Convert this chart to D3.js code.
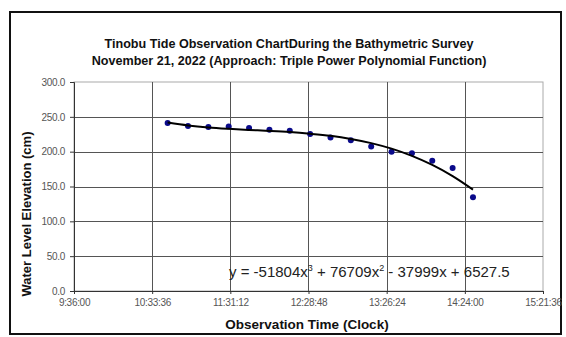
<!DOCTYPE html>
<html>
<head>
<meta charset="utf-8">
<script src="https://cdn.jsdelivr.net/npm/d3@7"></script>
<style>
  body { margin: 0; background: #fff; }
  svg { display: block; font-family: "Liberation Sans", Arial, sans-serif; }
</style>
</head>
<body>
<script>
// observation times (clock) and measured water level (cm)
var obsTimes = ["10:45", "11:00", "11:15", "11:30", "11:45", "12:00", "12:15", "12:30",
                "12:45", "13:00", "13:15", "13:30", "13:45", "14:00", "14:15", "14:30"];
var waterLevel = [241, 236.7, 235.3, 236.3, 233.9, 231.6, 230.1, 225.2,
                  220.2, 216.4, 207.5, 199.9, 197.6, 187.1, 176.5, 134.5];
// trendline values (cubic polynomial) at the same times
var trendLevel = [241.8, 237.7, 234.8, 232.8, 231.2, 229.8, 228.1, 225.7,
                  222.7, 218.3, 212.3, 204.3, 193.9, 180.9, 164.9, 145.5];

var xTickLabels = ["9:36:00", "10:33:36", "11:31:12", "12:28:48", "13:26:24", "14:24:00", "15:21:36"];
var yTickValues = [0, 50, 100, 150, 200, 250, 300];

var titleLines = ["Tinobu Tide Observation ChartDuring the Bathymetric Survey",
                  "November 21, 2022 (Approach: Triple Power Polynomial Function)"];
var xTitle = "Observation Time (Clock)";
var yTitle = "Water Level Elevation (cm)";

//turns "h:mm[:ss]" into minutes since midnight
function toMinutes(s) {
  var p = s.split(":").map(Number);
  return p[0] * 60 + p[1] + (p[2] || 0) / 60;
}

function main() {
  var w = 566, h = 337;
  var left = 74, right = 543, top = 82, bottom = 291;

  var svg = d3.select("body").append("svg")
    .attr("width", w)
    .attr("height", h);

  //outer chart frame
  svg.append("rect")
    .attr("x", 10).attr("y", 12)
    .attr("width", 551).attr("height", 322)
    .attr("fill", "#fff")
    .attr("stroke", "#111")
    .attr("stroke-width", 2);

  var xTicks = xTickLabels.map(toMinutes);
  var x = d3.scaleLinear()
    .domain([xTicks[0], xTicks[xTicks.length - 1]])
    .range([left, right]);
  var y = d3.scaleLinear()
    .domain([0, 300])
    .range([bottom, top]);

  //plot area border (light on top/right)
  svg.append("rect")
    .attr("x", left).attr("y", top)
    .attr("width", right - left).attr("height", bottom - top)
    .attr("fill", "none")
    .attr("stroke", "#aaa")
    .attr("stroke-width", 1);

  //gridlines
  svg.append("g").selectAll("line")
    .data(yTickValues.slice(1, -1))
    .enter().append("line")
    .attr("x1", left).attr("x2", right)
    .attr("y1", function(d) { return Math.round(y(d)) + 0.5; })
    .attr("y2", function(d) { return Math.round(y(d)) + 0.5; })
    .attr("stroke", "#555");
  svg.append("g").selectAll("line")
    .data(xTicks.slice(1, -1))
    .enter().append("line")
    .attr("y1", top).attr("y2", bottom)
    .attr("x1", function(d) { return Math.round(x(d)) + 0.5; })
    .attr("x2", function(d) { return Math.round(x(d)) + 0.5; })
    .attr("stroke", "#555");

  //axes
  var xAxis = svg.append("g")
    .attr("transform", "translate(0," + bottom + ")")
    .call(d3.axisBottom(x).tickValues(xTicks).tickSize(3).tickPadding(5)
      .tickFormat(function(d, i) { return xTickLabels[i]; }));
  var yAxis = svg.append("g")
    .attr("transform", "translate(" + left + ",0)")
    .call(d3.axisLeft(y).tickValues(yTickValues).tickSize(4).tickPadding(5)
      .tickFormat(d3.format(".1f")));
  [xAxis, yAxis].forEach(function(a) {
    a.select(".domain").attr("stroke", "#333");
    a.selectAll(".tick line").attr("stroke", "#333");
    a.selectAll("text")
      .attr("fill", "#555")
      .style("font-size", "10px")
      .style("letter-spacing", "-0.3px")
      .style("font-family", "'Liberation Sans', Arial, sans-serif");
  });

  //data points and trendline
  var pts = obsTimes.map(function(t, i) {
    return { t: toMinutes(t), v: waterLevel[i], f: trendLevel[i] };
  });

  var line = d3.line()
    .x(function(d) { return x(d.t); })
    .y(function(d) { return y(d.f); })
    .curve(d3.curveMonotoneX);

  svg.append("g").selectAll("circle")
    .data(pts)
    .enter().append("circle")
    .attr("cx", function(d) { return x(d.t); })
    .attr("cy", function(d) { return y(d.v); })
    .attr("r", 3)
    .attr("fill", "#0a0a8a");

  svg.append("path")
    .datum(pts)
    .attr("d", line)
    .attr("fill", "none")
    .attr("stroke", "#000")
    .attr("stroke-width", 2);

  //equation label
  var eq = svg.append("text")
    .attr("x", 229).attr("y", 277)
    .attr("fill", "#222")
    .style("font-size", "15px");
  eq.append("tspan").text("y = -51804x");
  eq.append("tspan").text("3").attr("dy", -6).style("font-size", "9px");
  eq.append("tspan").text(" + 76709x").attr("dy", 6);
  eq.append("tspan").text("2").attr("dy", -6).style("font-size", "9px");
  eq.append("tspan").text(" - 37999x + 6527.5").attr("dy", 6);

  //titles
  svg.selectAll(".title")
    .data(titleLines)
    .enter().append("text")
    .attr("class", "title")
    .attr("x", 289)
    .attr("y", function(d, i) { return 48 + i * 17; })
    .attr("text-anchor", "middle")
    .style("font-size", "12.6px")
    .style("font-weight", "bold")
    .attr("fill", "#111")
    .text(function(d) { return d; });

  svg.append("text")
    .attr("x", 307).attr("y", 329)
    .attr("text-anchor", "middle")
    .style("font-size", "13.5px")
    .style("font-weight", "bold")
    .attr("fill", "#111")
    .text(xTitle);

  svg.append("text")
    .attr("transform", "translate(31,214) rotate(-90)")
    .attr("text-anchor", "middle")
    .style("font-size", "13px")
    .style("font-weight", "bold")
    .attr("fill", "#111")
    .text(yTitle);
}

window.onload = function() {
  main();
};
</script>
</body>
</html>
